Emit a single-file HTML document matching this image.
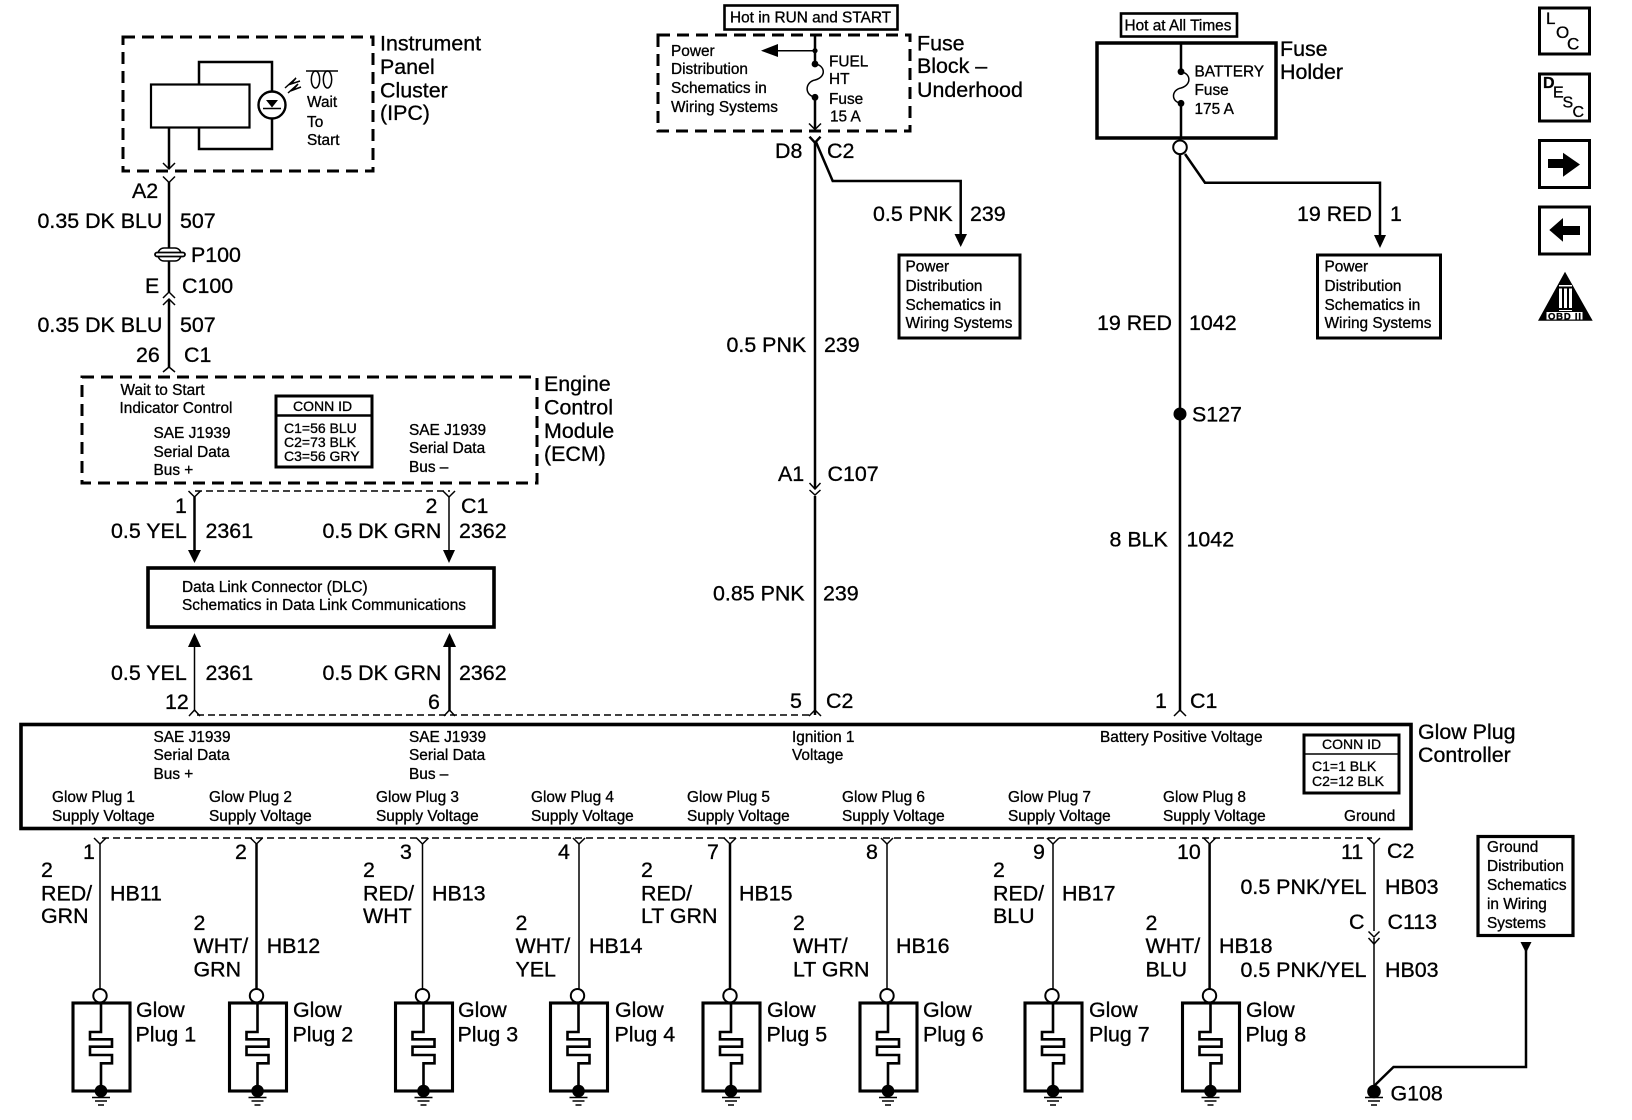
<!DOCTYPE html>
<html><head><meta charset="utf-8"><style>
html,body{margin:0;padding:0;background:#fff}
svg{display:block}
text{font-family:"Liberation Sans",sans-serif;fill:#000;stroke:#000;stroke-width:.32}
.L{font-size:21.4px}.S{font-size:15.4px}.X{font-size:14px}
.w{fill:none;stroke:#000;stroke-width:2.5}
.t{fill:none;stroke:#000;stroke-width:1.5}
.b{fill:none;stroke:#000;stroke-width:3.1}
.d{fill:none;stroke:#000;stroke-width:3;stroke-dasharray:12 7}
.h{fill:none;stroke:#000;stroke-width:1.5;stroke-dasharray:7 4}
</style></head><body>
<svg width="1632" height="1120" viewBox="0 0 1632 1120" xmlns="http://www.w3.org/2000/svg">
<defs>
<g id="p">
<rect x="-27" y="1003" width="57" height="88" class="b"/>
<circle cx="0" cy="995.7" r="6.7" fill="#fff" stroke="#000" stroke-width="2"/>
<path d="M1 1003V1032H-10V1039.3H12V1046.7H-10V1055H12V1063.3H1V1091" fill="none" stroke="#000" stroke-width="2.6"/>
<circle cx="1" cy="1091" r="6.3" fill="#000"/>
<path d="M-8 1097.5H10M-5 1101H7M-2 1105H4" fill="none" stroke="#000" stroke-width="1.5"/>
</g>
<path id="y" d="M-6 0L0 6L6 0" class="t"/>
</defs>

<!-- IPC -->
<rect x="123" y="37" width="250" height="134" class="d"/>
<path d="M199 84V62H272V149H199V127" class="w" stroke-width="2"/>
<rect x="151" y="84.5" width="98.5" height="43" fill="#fff" stroke="#000" stroke-width="2.2"/>
<circle cx="272" cy="105" r="13.5" fill="#fff" stroke="#000" stroke-width="2.4"/>
<polygon points="266,100 278,100 272,107.5" fill="#000"/>
<path d="M263 108.5H281" class="t"/>
<path d="M285 88L296 78L291 84L300 81M288 93L298 84L293 90L301 87" class="t" stroke-width="1.3"/>
<path d="M306 71H338" class="t" stroke-width="1.3"/>
<ellipse cx="315.5" cy="79.5" rx="4.2" ry="8.5" class="t" stroke-width="1.3"/>
<ellipse cx="327.5" cy="79.5" rx="4.2" ry="8.5" class="t" stroke-width="1.3"/>
<text class="S" x="307" y="107">Wait</text><text class="S" x="307" y="127">To</text><text class="S" x="307" y="145">Start</text>
<text class="L" x="380" y="50.5">Instrument</text><text class="L" x="380" y="74">Panel</text><text class="L" x="380" y="97.5">Cluster</text><text class="L" x="380" y="120">(IPC)</text>
<path d="M169 127V168" class="w" stroke-width="3"/>
<use href="#y" x="169" y="163"/><use href="#y" x="169" y="176.5"/>
<path d="M169 182V248M169 261V292M169 300V367" class="w"/>
<rect x="158" y="248" width="23" height="13" rx="6" class="t" stroke-width="2.2"/>
<rect x="155" y="252.5" width="30" height="4" rx="2" fill="#fff" stroke="#000" stroke-width="1.8"/>
<path d="M163 298L169 292L175 298M163 305L169 299L175 305M163 372L169 367L175 372" class="t" stroke-width="1.8"/>
<text class="L" x="132" y="198">A2</text>
<text class="L" x="37.5" y="228">0.35 DK BLU</text><text class="L" x="180" y="228">507</text>
<text class="L" x="191" y="262">P100</text>
<text class="L" x="145" y="293">E</text><text class="L" x="182" y="293">C100</text>
<text class="L" x="37.5" y="332">0.35 DK BLU</text><text class="L" x="180" y="332">507</text>
<text class="L" x="136" y="362">26</text><text class="L" x="184" y="362">C1</text>

<!-- ECM -->
<rect x="82" y="377" width="455" height="106" class="d"/>
<text class="S" x="120.5" y="395">Wait to Start</text><text class="S" x="119.5" y="413">Indicator Control</text>
<text class="S" x="153.5" y="438">SAE J1939</text><text class="S" x="153.5" y="457">Serial Data</text><text class="S" x="153.5" y="475">Bus +</text>
<text class="S" x="409" y="435">SAE J1939</text><text class="S" x="409" y="453">Serial Data</text><text class="S" x="409" y="472">Bus –</text>
<rect x="276" y="396" width="96" height="71" fill="#fff" stroke="#000" stroke-width="3"/>
<path d="M276 415.5H372" class="w" stroke-width="3"/>
<text class="X" x="293" y="411">CONN ID</text>
<text class="X" x="284" y="433">C1=56 BLU</text><text class="X" x="284" y="447">C2=73 BLK</text><text class="X" x="284" y="461">C3=56 GRY</text>
<text class="L" x="544" y="391">Engine</text><text class="L" x="544" y="414.5">Control</text><text class="L" x="544" y="438">Module</text><text class="L" x="544" y="461">(ECM)</text>
<path d="M195 491H450" class="h"/>
<use href="#y" x="194.5" y="491"/><use href="#y" x="449" y="491"/>
<path d="M194.5 497V552" class="w" stroke-width="3"/><path d="M449 497V552" class="t"/>
<polygon points="188,550 201,550 194.5,563" fill="#000"/><polygon points="443,550 455,550 449,563" fill="#000"/>
<text class="L" x="175" y="513">1</text><text class="L" x="425.5" y="513">2</text><text class="L" x="461" y="513">C1</text>
<text class="L" x="111" y="538">0.5 YEL</text><text class="L" x="205.5" y="538">2361</text>
<text class="L" x="322.5" y="538">0.5 DK GRN</text><text class="L" x="459" y="538">2362</text>

<!-- DLC -->
<rect x="148" y="568" width="346" height="59" fill="none" stroke="#000" stroke-width="3.6"/>
<text class="S" x="182" y="592">Data Link Connector (DLC)</text>
<text class="S" x="182" y="610">Schematics in Data Link Communications</text>
<polygon points="188,647 201,647 194.5,633" fill="#000"/><polygon points="443,647 456,647 449.5,633" fill="#000"/>
<path d="M194.5 645V711" class="t" stroke-width="2"/><path d="M449.5 645V711" class="w" stroke-width="3"/>
<text class="L" x="111" y="680">0.5 YEL</text><text class="L" x="205.5" y="680">2361</text>
<text class="L" x="322.5" y="680">0.5 DK GRN</text><text class="L" x="459" y="680">2362</text>
<text class="L" x="165" y="709">12</text><text class="L" x="428" y="709">6</text>
<path d="M197 715H812" class="h"/>
<path d="M189 716L194.5 710L200 716M444 716L449.5 710L455 716M809 716L815 710L821 716M1174 716L1180 710L1186 716" class="t"/>

<!-- Center column -->
<rect x="724.5" y="5.5" width="173" height="24" fill="none" stroke="#000" stroke-width="2.6"/>
<text class="S" x="730" y="22.5">Hot in RUN and START</text>
<rect x="658" y="35" width="252" height="96" class="d"/>
<text class="S" x="671" y="56">Power</text><text class="S" x="671" y="74">Distribution</text><text class="S" x="671" y="93">Schematics in</text><text class="S" x="671" y="112">Wiring Systems</text>
<path d="M776 50.7H815" class="t" stroke-width="2"/><polygon points="761,50.7 778,44 778,57" fill="#000"/>
<circle cx="815" cy="50.7" r="2.6"/><circle cx="815" cy="64" r="3.4"/><circle cx="815" cy="97.3" r="3.4"/>
<path d="M815 35V64M815 97V129" class="w"/>
<path d="M815 64C825 65 827 77 815 80C805 82 804 95 815 97.3" class="t" stroke-width="2"/>
<use href="#y" x="815" y="123.5"/>
<path d="M809.5 136.7L815 142.7L820.5 136.7" class="w" stroke-width="2"/>
<text class="S" x="829" y="66.7">FUEL</text><text class="S" x="829" y="84">HT</text><text class="S" x="829" y="104">Fuse</text><text class="S" x="830" y="121.7">15 A</text>
<text class="L" x="917" y="50.5">Fuse</text><text class="L" x="917" y="73">Block –</text><text class="L" x="917" y="97">Underhood</text>
<path d="M815 142V715" class="w" stroke-width="2.8"/>
<text class="L" x="775" y="158">D8</text><text class="L" x="827" y="158">C2</text>
<path d="M816 142L832.7 181H960.7V237" class="w" stroke-width="2.2"/>
<polygon points="954.5,234 967,234 960.7,247" fill="#000"/>
<text class="L" x="873" y="221">0.5 PNK</text><text class="L" x="970" y="221">239</text>
<rect x="899" y="255" width="121" height="83" fill="none" stroke="#000" stroke-width="3"/>
<text class="S" x="905.5" y="271.7">Power</text><text class="S" x="905.5" y="291">Distribution</text><text class="S" x="905.5" y="310">Schematics in</text><text class="S" x="905.5" y="328">Wiring Systems</text>
<text class="L" x="726.5" y="352">0.5 PNK</text><text class="L" x="824" y="352">239</text>
<text class="L" x="778" y="481">A1</text><text class="L" x="827.5" y="481">C107</text>
<rect x="809" y="480" width="12" height="16" fill="#fff"/>
<path d="M815 480V489" class="w" stroke-width="2.8"/>
<path d="M809.5 483L815 489L820.5 483M809.5 490L815 495L820.5 490" class="t" stroke-width="1.8"/>
<text class="L" x="713" y="600.7">0.85 PNK</text><text class="L" x="823" y="600.7">239</text>
<text class="L" x="790" y="708">5</text><text class="L" x="826" y="708">C2</text>

<!-- Right column -->
<rect x="1121" y="13.5" width="116" height="23" fill="none" stroke="#000" stroke-width="2.6"/>
<text class="S" x="1124.5" y="30.7">Hot at All Times</text>
<rect x="1097" y="43" width="179" height="95" fill="none" stroke="#000" stroke-width="3.5"/>
<path d="M1181 42V72M1181 103V138" class="w" stroke-width="3"/>
<circle cx="1181" cy="71.7" r="3.4"/><circle cx="1181" cy="103.3" r="3.4"/>
<path d="M1181 72C1191 73 1192 85 1181 88C1171 90 1171 102 1181 103.3" class="t" stroke-width="2"/>
<text class="S" x="1194.5" y="76.7">BATTERY</text><text class="S" x="1194.5" y="95">Fuse</text><text class="S" x="1194.5" y="114">175 A</text>
<text class="L" x="1280" y="56">Fuse</text><text class="L" x="1280" y="79">Holder</text>
<circle cx="1180" cy="147.3" r="6.8" fill="#fff" stroke="#000" stroke-width="2"/>
<path d="M1180 154V711" class="w" stroke-width="2.6"/>
<path d="M1185 154L1205 182.7H1380V238" class="w" stroke-width="2"/>
<polygon points="1374,235 1386,235 1380,248" fill="#000"/>
<text class="L" x="1297" y="221">19 RED</text><text class="L" x="1390" y="221">1</text>
<rect x="1317.5" y="255" width="123" height="83" fill="none" stroke="#000" stroke-width="3"/>
<text class="S" x="1324.5" y="271.7">Power</text><text class="S" x="1324.5" y="291">Distribution</text><text class="S" x="1324.5" y="310">Schematics in</text><text class="S" x="1324.5" y="328">Wiring Systems</text>
<text class="L" x="1097" y="330">19 RED</text><text class="L" x="1189" y="330">1042</text>
<circle cx="1180" cy="414" r="6.5"/>
<text class="L" x="1192" y="421.5">S127</text>
<text class="L" x="1109.5" y="546.5">8 BLK</text><text class="L" x="1186.5" y="546.5">1042</text>
<text class="L" x="1155" y="708">1</text><text class="L" x="1190" y="708">C1</text>

<!-- Controller -->
<rect x="21" y="724.5" width="1390" height="104" fill="none" stroke="#000" stroke-width="3.6"/>
<text class="S" x="153.5" y="742">SAE J1939</text><text class="S" x="153.5" y="760">Serial Data</text><text class="S" x="153.5" y="779">Bus +</text>
<text class="S" x="409" y="742">SAE J1939</text><text class="S" x="409" y="760">Serial Data</text><text class="S" x="409" y="779">Bus –</text>
<text class="S" x="792" y="742">Ignition 1</text><text class="S" x="792" y="760">Voltage</text>
<text class="S" x="1100" y="742">Battery Positive Voltage</text>
<rect x="1304" y="735" width="95" height="58" fill="none" stroke="#000" stroke-width="3"/>
<path d="M1304 754H1399" class="t" stroke-width="2"/>
<text class="X" x="1322" y="749">CONN ID</text>
<text class="X" x="1312" y="771">C1=1 BLK</text><text class="X" x="1312" y="786">C2=12 BLK</text>
<text class="L" x="1418" y="739">Glow Plug</text><text class="L" x="1418" y="762">Controller</text>
<text class="S" x="52" y="802">Glow Plug 1</text><text class="S" x="52" y="821">Supply Voltage</text>
<text class="S" x="209" y="802">Glow Plug 2</text><text class="S" x="209" y="821">Supply Voltage</text>
<text class="S" x="376" y="802">Glow Plug 3</text><text class="S" x="376" y="821">Supply Voltage</text>
<text class="S" x="531" y="802">Glow Plug 4</text><text class="S" x="531" y="821">Supply Voltage</text>
<text class="S" x="687" y="802">Glow Plug 5</text><text class="S" x="687" y="821">Supply Voltage</text>
<text class="S" x="842" y="802">Glow Plug 6</text><text class="S" x="842" y="821">Supply Voltage</text>
<text class="S" x="1008" y="802">Glow Plug 7</text><text class="S" x="1008" y="821">Supply Voltage</text>
<text class="S" x="1163" y="802">Glow Plug 8</text><text class="S" x="1163" y="821">Supply Voltage</text>
<text class="S" x="1344" y="821">Ground</text>
<path d="M102 838H1372" class="h"/>
<use href="#y" x="100" y="838"/><use href="#y" x="256.5" y="838"/><use href="#y" x="422.5" y="838"/><use href="#y" x="579" y="838"/><use href="#y" x="730" y="838"/><use href="#y" x="887" y="838"/><use href="#y" x="1053" y="838"/><use href="#y" x="1209.6" y="838"/><use href="#y" x="1374" y="838"/>

<!-- Wires -->
<path d="M100 844V989" class="t" stroke-width="2"/>
<path d="M256.5 844V989" class="w" stroke-width="3"/>
<path d="M422.5 844V989" class="t" stroke-width="2"/>
<path d="M579 844V989" class="t" stroke-width="2"/>
<path d="M730 844V989" class="w"/>
<path d="M887 844V989" class="t" stroke-width="2"/>
<path d="M1053 844V989" class="t" stroke-width="2"/>
<path d="M1209.6 844V989" class="w" stroke-width="3.4"/>
<path d="M1374 844V931M1374 938V1086" class="t"/>

<use href="#p" x="100"/><use href="#p" x="256.5"/><use href="#p" x="422.5"/><use href="#p" x="577.5"/><use href="#p" x="730"/><use href="#p" x="887"/><use href="#p" x="1052"/><use href="#p" x="1209.5"/>

<text class="L" x="83" y="859">1</text><text class="L" x="235" y="859">2</text><text class="L" x="400" y="859">3</text><text class="L" x="558" y="859">4</text><text class="L" x="707" y="859">7</text><text class="L" x="866" y="859">8</text><text class="L" x="1033" y="859">9</text><text class="L" x="1177" y="859">10</text><text class="L" x="1341" y="859">11</text><text class="L" x="1387" y="858">C2</text>

<text class="L" x="41" y="877">2</text><text class="L" x="41" y="900.7">RED/</text><text class="L" x="41" y="923">GRN</text><text class="L" x="110" y="900.7">HB11</text>
<text class="L" x="193.5" y="930">2</text><text class="L" x="193.5" y="953">WHT/</text><text class="L" x="193.5" y="976.5">GRN</text><text class="L" x="266.7" y="953">HB12</text>
<text class="L" x="363" y="877">2</text><text class="L" x="363" y="900.7">RED/</text><text class="L" x="363" y="923">WHT</text><text class="L" x="432" y="900.7">HB13</text>
<text class="L" x="515.5" y="930">2</text><text class="L" x="515.5" y="953">WHT/</text><text class="L" x="515.5" y="976.5">YEL</text><text class="L" x="589" y="953">HB14</text>
<text class="L" x="641" y="877">2</text><text class="L" x="641" y="900.7">RED/</text><text class="L" x="641" y="923">LT GRN</text><text class="L" x="739" y="900.7">HB15</text>
<text class="L" x="793" y="930">2</text><text class="L" x="793" y="953">WHT/</text><text class="L" x="793" y="976.5">LT GRN</text><text class="L" x="896" y="953">HB16</text>
<text class="L" x="993" y="877">2</text><text class="L" x="993" y="900.7">RED/</text><text class="L" x="993" y="923">BLU</text><text class="L" x="1062" y="900.7">HB17</text>
<text class="L" x="1145.5" y="930">2</text><text class="L" x="1145.5" y="953">WHT/</text><text class="L" x="1145.5" y="976.5">BLU</text><text class="L" x="1219" y="953">HB18</text>

<text class="L" x="136" y="1017">Glow</text><text class="L" x="135.5" y="1041.7">Plug 1</text>
<text class="L" x="293" y="1017">Glow</text><text class="L" x="292.5" y="1041.7">Plug 2</text>
<text class="L" x="458" y="1017">Glow</text><text class="L" x="457.5" y="1041.7">Plug 3</text>
<text class="L" x="615" y="1017">Glow</text><text class="L" x="614.5" y="1041.7">Plug 4</text>
<text class="L" x="767" y="1017">Glow</text><text class="L" x="766.5" y="1041.7">Plug 5</text>
<text class="L" x="923" y="1017">Glow</text><text class="L" x="923" y="1041.7">Plug 6</text>
<text class="L" x="1089" y="1017">Glow</text><text class="L" x="1089" y="1041.7">Plug 7</text>
<text class="L" x="1246" y="1017">Glow</text><text class="L" x="1245.5" y="1041.7">Plug 8</text>

<!-- Ground -->
<text class="L" x="1240.5" y="894">0.5 PNK/YEL</text><text class="L" x="1385" y="894">HB03</text>
<text class="L" x="1349" y="929">C</text><text class="L" x="1387.5" y="929">C113</text>
<path d="M1368.5 931.5L1374 937L1379.5 931.5M1368.5 938L1374 944L1379.5 938" class="t" stroke-width="1.8"/>
<text class="L" x="1240.5" y="977">0.5 PNK/YEL</text><text class="L" x="1385" y="977">HB03</text>
<circle cx="1374" cy="1091.5" r="6.8"/>
<path d="M1365 1097.5H1383M1368 1101H1380M1371 1105H1377" class="t"/>
<text class="L" x="1390.5" y="1100.7">G108</text>
<rect x="1478" y="836.5" width="95" height="99" fill="none" stroke="#000" stroke-width="3.2"/>
<text class="S" x="1487" y="852">Ground</text><text class="S" x="1487" y="871">Distribution</text><text class="S" x="1487" y="890">Schematics</text><text class="S" x="1487" y="909">in Wiring</text><text class="S" x="1487" y="928">Systems</text>
<polygon points="1520.5,942 1531.5,942 1526,953" fill="#000"/>
<path d="M1526 950V1067H1393.5L1374 1086" class="w"/>

<!-- Sidebar -->
<rect x="1539.5" y="8" width="50" height="46" fill="none" stroke="#000" stroke-width="3"/>
<text x="1546" y="24" font-size="17">L</text><text x="1556" y="38" font-size="17" stroke-width=".8">O</text><text x="1567" y="49.5" font-size="17" stroke-width=".7">C</text>
<rect x="1539.5" y="74" width="50" height="47" fill="none" stroke="#000" stroke-width="3"/>
<text x="1543" y="88" font-size="16" font-weight="bold">D</text><text x="1553" y="97.5" font-size="16">E</text><text x="1562.5" y="107.5" font-size="16" stroke-width=".8">S</text><text x="1572.5" y="117" font-size="16" stroke-width=".5">C</text>
<rect x="1539.5" y="140.5" width="50" height="47" fill="none" stroke="#000" stroke-width="3"/>
<polygon points="1548,159 1563,159 1563,152.7 1580,164.5 1563,176.7 1563,168 1548,168" fill="#000"/>
<rect x="1539.5" y="207" width="50" height="47" fill="none" stroke="#000" stroke-width="3"/>
<polygon points="1580,226 1563,226 1563,218 1549.3,230 1563,241.7 1563,235 1580,235" fill="#000"/>
<polygon points="1565,271.7 1538,320.7 1592.7,320.7" fill="#000"/>
<rect x="1559" y="285" width="13" height="26" fill="#fff"/>
<path d="M1563 288V308M1568 288V308M1559 287.5H1572M1559 309H1572" fill="none" stroke="#000" stroke-width="2"/>
<rect x="1546.5" y="312" width="36" height="7.5" fill="#fff"/>
<text x="1548" y="319.3" font-size="9.5" font-weight="bold" stroke="none" textLength="33">OBD II</text>
</svg>
</body></html>
